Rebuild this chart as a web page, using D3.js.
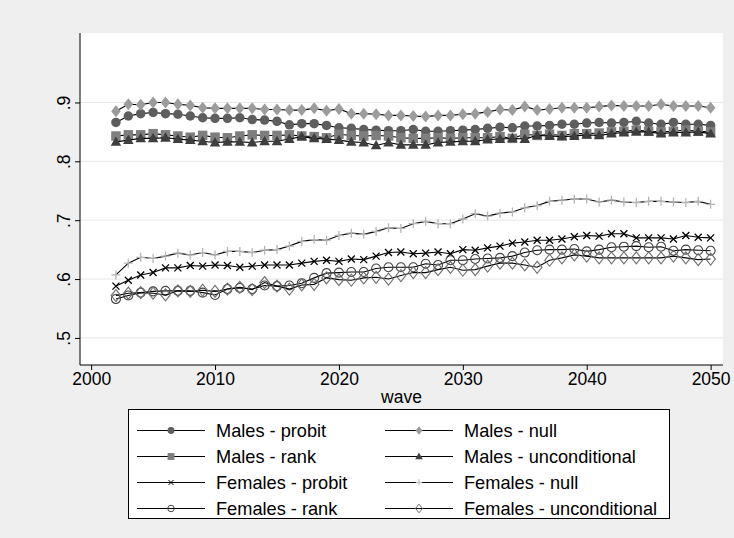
<!DOCTYPE html>
<html>
<head>
<meta charset="utf-8">
<script src="https://cdn.jsdelivr.net/npm/d3@7"></script>
<style>
    body { margin: 0; background: #efefef; }
    svg { display: block; font-family: "Liberation Sans", Arial, sans-serif; }
</style>
</head>
<body>
<svg id="chart" width="734" height="538"></svg>
<script>
// waves 2002..2050
let waves = d3.range(2002, 2051);

let malesProbit = [.866, .877, .881, .883, .881, .880, .877, .874, .873, .873, .874, .871, .870, .868, .862, .864, .864, .861, .857, .856,
    .854, .853, .852, .852, .854, .851, .851, .852, .853, .854, .856, .858, .857, .860, .860, .861, .863, .863, .865, .866,
    .865, .866, .868, .865, .863, .866, .863, .863, .861];
let malesNull = [.885, .897, .896, .900, .900, .897, .895, .891, .890, .890, .890, .890, .888, .888, .887, .887, .890, .886, .889, .881,
    .881, .880, .878, .878, .877, .876, .878, .878, .880, .881, .884, .888, .887, .893, .887, .889, .891, .891, .891, .893,
    .895, .894, .894, .894, .897, .894, .894, .894, .891];
let malesRank = [.843, .845, .845, .847, .845, .843, .841, .844, .841, .840, .843, .845, .844, .844, .845, .843, .842, .840, .846, .844,
    .843, .844, .843, .840, .839, .839, .840, .839, .840, .840, .840, .842, .839, .846, .844, .846, .844, .847, .847, .848,
    .850, .851, .853, .851, .850, .851, .853, .851, .850];
let malesUncond = [.833, .836, .839, .839, .840, .838, .836, .834, .832, .833, .833, .832, .834, .834, .838, .842, .839, .838, .836, .833,
    .832, .827, .832, .828, .828, .828, .832, .833, .834, .834, .837, .838, .839, .838, .844, .843, .842, .843, .845, .844,
    .847, .849, .850, .850, .847, .849, .849, .850, .847];
let femalesProbit = [.588, .598, .607, .611, .619, .619, .623, .622, .624, .623, .620, .622, .624, .624, .624, .627, .630, .632, .630, .634,
    .633, .639, .645, .646, .643, .644, .646, .643, .650, .649, .653, .656, .661, .663, .666, .666, .668, .672, .674, .673,
    .677, .677, .670, .670, .670, .668, .674, .671, .670];
let femalesNull = [.607, .627, .637, .635, .639, .644, .641, .645, .641, .647, .647, .645, .649, .650, .656, .664, .667, .666, .674, .678,
    .676, .681, .687, .686, .694, .698, .694, .694, .702, .711, .707, .712, .714, .721, .725, .732, .734, .736, .736, .731,
    .734, .731, .730, .732, .732, .731, .730, .732, .727];
let femalesRank = [.566, .572, .577, .579, .580, .580, .580, .577, .573, .583, .585, .583, .589, .588, .589, .593, .602, .610, .611, .612,
    .612, .618, .620, .620, .620, .626, .624, .632, .632, .634, .635, .636, .639, .645, .649, .650, .650, .651, .647, .650,
    .654, .655, .656, .654, .655, .648, .650, .649, .648];
let femalesUncond = [.572, .576, .577, .576, .573, .580, .579, .581, .579, .583, .586, .582, .594, .588, .583, .590, .591, .602, .599, .598,
    .602, .603, .600, .606, .611, .611, .616, .620, .615, .616, .622, .627, .627, .624, .620, .632, .636, .641, .639, .636,
    .636, .636, .636, .636, .636, .639, .636, .633, .634];

let seriesNames = ["Males - probit", "Males - null", "Males - rank", "Males - unconditional",
    "Females - probit", "Females - null", "Females - rank", "Females - unconditional"];
let seriesValues = [malesProbit, malesNull, malesRank, malesUncond, femalesProbit, femalesNull, femalesRank, femalesUncond];

let xTicks = [2000, 2010, 2020, 2030, 2040, 2050];
let yTicks = [.5, .6, .7, .8, .9];
let yTickLabels = [".5", ".6", ".7", ".8", ".9"];

// marker look for each series, same order as seriesNames
let markers = [
    { shape: "circle", fill: "#5e5e5e", stroke: "none", size: 9.5 },
    { shape: "diamond", fill: "#9c9c9c", stroke: "none", size: 12 },
    { shape: "square", fill: "#7e7e7e", stroke: "none", size: 9.5 },
    { shape: "triangle", fill: "#3e3e3e", stroke: "none", size: 10.5 },
    { shape: "x", fill: "none", stroke: "#000", size: 7 },
    { shape: "plus", fill: "none", stroke: "#b5b5b5", size: 9 },
    { shape: "circle", fill: "none", stroke: "#444", size: 9 },
    { shape: "diamond", fill: "none", stroke: "#6e6e6e", size: 12 }
];

addEventListener("load", init);

function markerPath(shape, s) {
    let h = s / 2;
    if (shape == "circle") {
        return "M" + (-h) + ",0A" + h + "," + h + " 0 1,0 " + h + ",0A" + h + "," + h + " 0 1,0 " + (-h) + ",0Z";
    } else if (shape == "diamond") {
        return "M0," + (-h) + "L" + (h * 0.8) + ",0L0," + h + "L" + (-h * 0.8) + ",0Z";
    } else if (shape == "square") {
        return "M" + (-h) + "," + (-h) + "H" + h + "V" + h + "H" + (-h) + "Z";
    } else if (shape == "triangle") {
        return "M0," + (-h * 1.05) + "L" + h + "," + (h * 0.75) + "L" + (-h) + "," + (h * 0.75) + "Z";
    } else if (shape == "x") {
        return "M" + (-h) + "," + (-h) + "L" + h + "," + h + "M" + h + "," + (-h) + "L" + (-h) + "," + h;
    } else {
        return "M" + (-h) + ",0H" + h + "M0," + (-h) + "V" + h;
    }
}

function init() {
    let svg = d3.select("#chart");
    let left = 80, right = 723, top = 33, bottom = 365;
    let fs = 17.5;

    let x = d3.scaleLinear().domain([1999.1, 2051]).range([left, right]);
    let y = d3.scaleLinear().domain([0.454, 1.018]).range([bottom, top]);

    svg.append("rect").attr("width", 734).attr("height", 538).attr("fill", "#efefef");
    svg.append("rect").attr("x", left).attr("y", top).attr("width", right - left).attr("height", bottom - top).attr("fill", "#fff");

    // grid
    svg.append("g").selectAll("line").data(yTicks).join("line")
        .attr("x1", left).attr("x2", right)
        .attr("y1", d => y(d)).attr("y2", d => y(d))
        .attr("stroke", "#e6e6e6").attr("stroke-width", 1);

    // series
    let line = d3.line().x((d, i) => x(waves[i])).y(d => y(d));
    seriesValues.forEach((vals, k) => {
        let g = svg.append("g");
        g.append("path").datum(vals).attr("d", line)
            .attr("fill", "none").attr("stroke", "#000").attr("stroke-width", 1.1);
        let m = markers[k];
        g.selectAll("path.m").data(vals).join("path").attr("class", "m")
            .attr("transform", (d, i) => "translate(" + x(waves[i]) + "," + y(d) + ")")
            .attr("d", markerPath(m.shape, m.size))
            .attr("fill", m.fill).attr("stroke", m.stroke).attr("stroke-width", m.shape == "x" || m.shape == "plus" ? 1.3 : 1.1);
    });

    // axes
    let yAxis = svg.append("g").attr("transform", "translate(" + left + ",0)")
        .call(d3.axisLeft(y).tickValues(yTicks).tickSize(5).tickFormat((d, i) => yTickLabels[i]));
    yAxis.select(".domain").attr("d", "M0," + top + "V" + bottom).attr("stroke", "#000");
    yAxis.selectAll(".tick text")
        .attr("font-size", fs).attr("fill", "#000")
        .attr("transform", "rotate(-90)").attr("text-anchor", "middle")
        .attr("x", 0).attr("y", -10).attr("dy", 0);

    let xAxis = svg.append("g").attr("transform", "translate(0," + bottom + ")")
        .call(d3.axisBottom(x).tickValues(xTicks).tickSize(5).tickFormat(d3.format("d")));
    xAxis.select(".domain").attr("d", "M" + left + ",0H" + right).attr("stroke", "#000");
    xAxis.selectAll(".tick text").attr("font-size", fs).attr("fill", "#000").attr("y", 8);

    svg.append("text").attr("x", (left + right) / 2).attr("y", 403)
        .attr("text-anchor", "middle").attr("font-size", fs).text("wave");

    // legend
    let lg = svg.append("g");
    lg.append("rect").attr("x", 128.5).attr("y", 409.5).attr("width", 541).attr("height", 109)
        .attr("fill", "#fff").attr("stroke", "#000").attr("stroke-width", 1);
    seriesNames.forEach((name, k) => {
        let col = k % 2, row = Math.floor(k / 2);
        let x0 = col == 0 ? 137 : 385;
        let yy = 430.5 + row * 26;
        lg.append("line").attr("x1", x0).attr("x2", x0 + 68).attr("y1", yy).attr("y2", yy)
            .attr("stroke", "#000").attr("stroke-width", 1);
        let m = markers[k];
        lg.append("path").attr("transform", "translate(" + (x0 + 34) + "," + yy + ")")
            .attr("d", markerPath(m.shape, m.size * 0.72))
            .attr("fill", m.fill).attr("stroke", m.stroke).attr("stroke-width", 1);
        lg.append("text").attr("x", x0 + 79).attr("y", yy).attr("dy", "0.36em")
            .attr("font-size", 18.2).text(name);
    });
}
</script>
</body>
</html>
